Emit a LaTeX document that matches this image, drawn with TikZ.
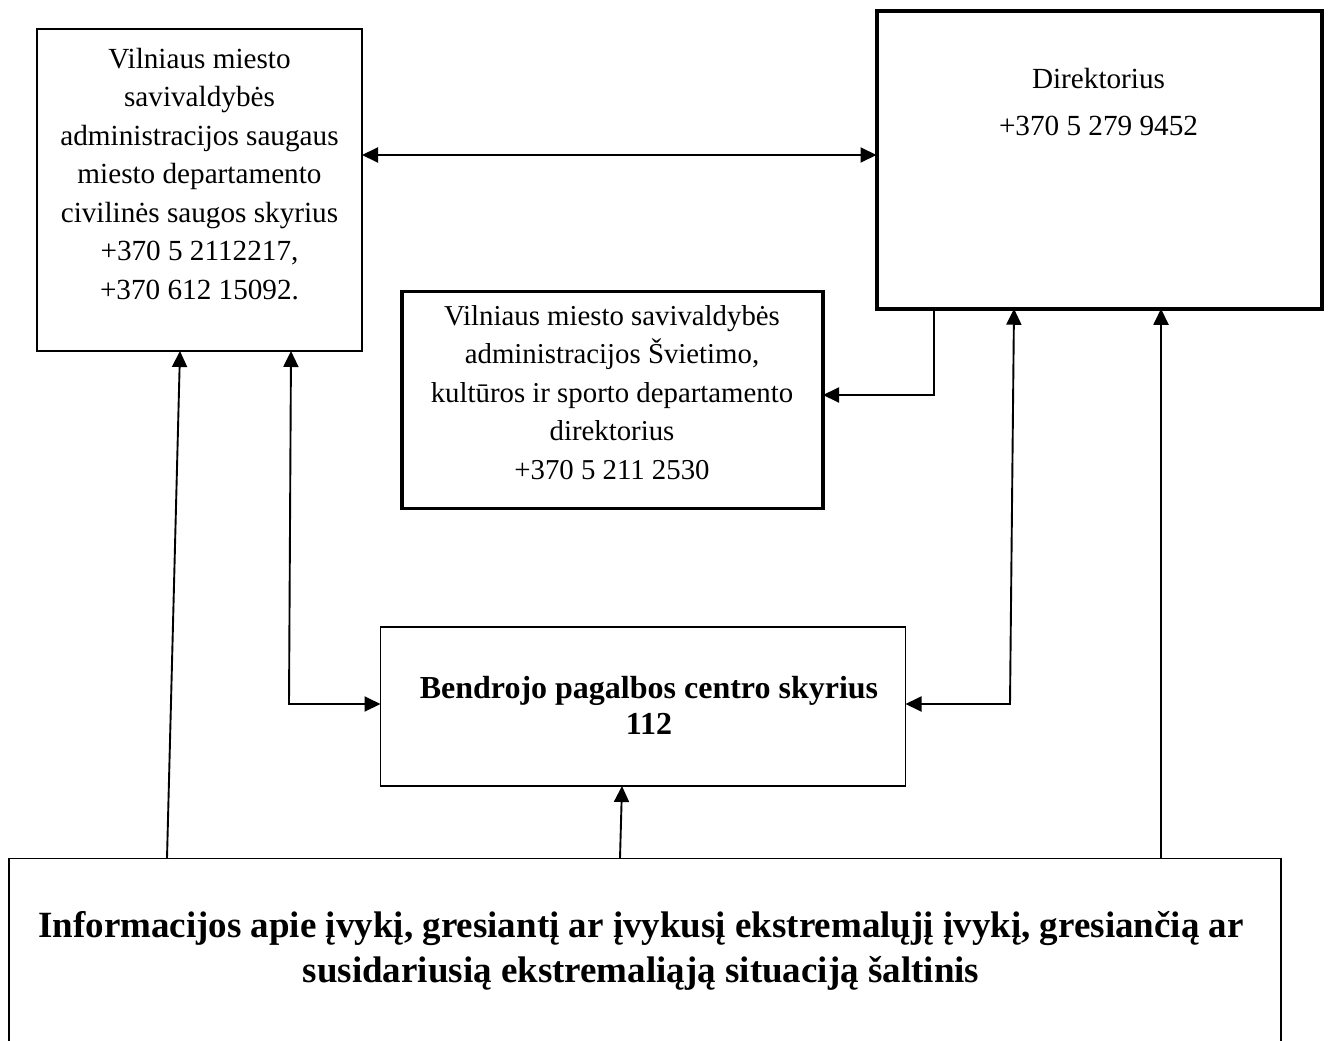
\documentclass[tikz,border=0pt]{standalone}
\usepackage{fontspec}
\setmainfont{Liberation Serif}
\usetikzlibrary{arrows.meta}
\begin{document}
\begin{tikzpicture}[x=1pt,y=-1pt,
  thinbox/.style={draw,line width=1.5pt,inner sep=0pt,outer sep=0pt},
  thickbox/.style={draw,line width=4pt,inner sep=0pt,outer sep=0pt},
  midbox/.style={draw,line width=3.4pt,inner sep=0pt,outer sep=0pt},
  txt/.style={inner sep=0pt,align=center,anchor=base},
  tip/.tip={Triangle[length=16pt 0 0,width=15pt 0 0]},
  arr/.style={line width=1.9pt,-tip},
  dblarr/.style={line width=1.9pt,tip-tip}]
\useasboundingbox (0,0) rectangle (1328,1041);
% boxes
\node[thinbox,minimum width=325pt,minimum height=322pt] (L) at (199.5,190) {};
\node[thickbox,minimum width=445pt,minimum height=297.5pt] (R) at (1099,160) {};
\node[midbox,minimum width=421pt,minimum height=217pt] (M) at (612.5,400) {};
\node[thinbox,minimum width=525pt,minimum height=159pt] (B) at (643,706.5) {};
\begin{scope}
\clip (0,0) rectangle (1328,1041);
\node[thinbox,minimum width=1272pt,minimum height=241.5pt] (S) at (645,979) {};
\end{scope}
% texts (base anchor = baseline of the last line)
\node[txt,font=\fontsize{29.2}{38.5}\selectfont] (Lt) at (199.5,299)
  {Vilniaus miesto\\savivaldybės\\administracijos saugaus\\miesto departamento\\civilinės saugos skyrius\\+370 5 2112217,\\+370 612 15092.};
\node[txt,font=\fontsize{29.2}{47}\selectfont] (Rt) at (1098.5,135)
  {Direktorius\\+370 5 279 9452};
\node[txt,font=\fontsize{28.8}{38.5}\selectfont] (Mt) at (612,479)
  {Vilniaus miesto savivaldybės\\administracijos Švietimo,\\kultūros ir sporto departamento\\direktorius\\+370 5 211 2530};
\node[txt,font=\bfseries\fontsize{32}{36}\selectfont] (Bt) at (649,734)
  {Bendrojo pagalbos centro skyrius\\112};
\node[txt,font=\bfseries\fontsize{37}{45}\selectfont] (St) at (641,982)
  {Informacijos apie įvykį, gresiantį ar įvykusį ekstremalųjį įvykį, gresiančią ar\\susidariusią ekstremaliąją situaciją šaltinis};
% helper coordinates
\coordinate (h1) at (0,155);
\coordinate (b1) at (934,395);
\coordinate (b2) at (1010,704);
\coordinate (b2t) at (1014,0);
\coordinate (b3) at (289,704);
\coordinate (b3t) at (291,0);
\coordinate (s1) at (167,0);
\coordinate (l1) at (180,0);
\coordinate (s2) at (620,0);
\coordinate (g2) at (622,0);
\coordinate (s3) at (1161,0);
% connectors
\draw[dblarr] (L.east |- h1) -- (R.west |- h1);
\draw[arr] (R.south -| b1) -- (b1) -- (M.east |- b1);
\draw[dblarr] (B.east |- b2) -- (b2) -- (R.south -| b2t);
\draw[dblarr] (L.south -| b3t) -- (b3) -- (B.west |- b3);
\draw[arr] (S.north -| s1) -- (L.south -| l1);
\draw[arr] (S.north -| s2) -- (B.south -| g2);
\draw[arr] (S.north -| s3) -- (R.south -| s3);
\end{tikzpicture}
\end{document}
